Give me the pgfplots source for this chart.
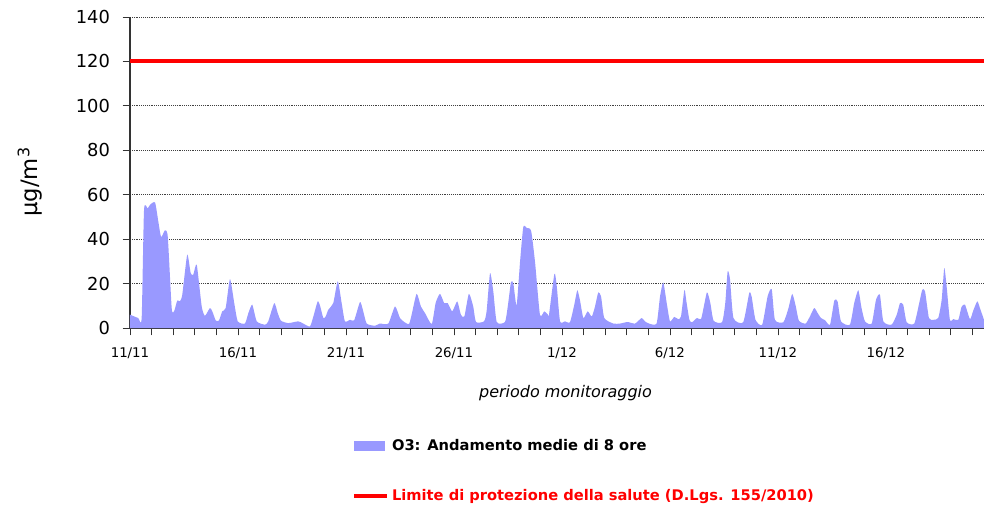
\documentclass[border=0pt]{standalone}
\usepackage{pgfplots}
\pgfplotsset{compat=1.18}
\usepackage{fontspec}
\setmainfont{DejaVu Sans}
\definecolor{ozone}{RGB}{153,153,255}
\begin{document}
\begin{tikzpicture}
\begin{axis}[
  at={(0,0)}, anchor=south west,
  scale only axis, width=640.5pt, height=233.25pt,
  xmin=0, xmax=39.54, ymin=0, ymax=140,
  axis x line*=bottom, axis y line*=left,
  axis line style={black!80, line width=0.8pt},
  tick align=outside,
  major tick length=5.5pt, minor tick length=5.5pt,
  tick style={black!80, line width=0.6pt},
  xtick={0,5,...,35},
  xticklabels={11/11,16/11,21/11,26/11,1/12,6/12,11/12,16/12},
  minor xtick={1,...,39},
  ytick={0,20,...,140},
  ymajorgrids=true,
  major grid style={densely dotted, black!75, line width=0.6pt},
  /pgf/number format/assume math mode=true,
  yticklabel style={font=\fontsize{13.4}{16}\selectfont, xshift=-6pt},
  xticklabel style={font=\fontsize{10}{12}\selectfont, yshift=-5.5pt},
  xlabel={periodo monitoraggio},
  xlabel style={at={(axis description cs:0.51,-0.209)}, anchor=center, font=\fontsize{12}{14}\selectfont\itshape},
  ylabel={µg/m\textsuperscript{3}},
  ylabel style={at={(axis description cs:-0.117,0.47)}, anchor=center, font=\fontsize{17}{19}\selectfont},
  legend style={draw=none, fill=none, at={(axis description cs:0.255,-0.34)}, anchor=north west,
    row sep=24pt, font=\fontsize{11}{13}\selectfont\bfseries},
  legend cell align=left,
]
\addplot[fill=ozone, draw=none, smooth, tension=0.35,
  legend image code/.code={\fill[ozone] (0pt,-3.75pt) rectangle (23pt,3.75pt);}]
coordinates {
(0.00,6.0) (0.38,4.5) (0.54,4.5) (0.65,53.2) (0.82,53.8) (0.93,55.5) (1.16,56.5)
(1.31,48) (1.44,41) (1.62,44) (1.75,41) (1.93,9) (2.04,7.5) (2.19,12.4) (2.31,12)
(2.42,15) (2.65,33) (2.81,24.7) (2.93,24) (3.09,28.5) (3.32,9.7) (3.47,5.5) (3.70,9)
(3.81,7.5) (3.97,3.4) (4.12,3.4) (4.27,7.5) (4.43,9) (4.63,22) (4.83,11) (4.99,3)
(5.32,2) (5.48,6.7) (5.66,10.5) (5.87,3) (6.25,1.5) (6.40,3) (6.68,11.2) (6.84,6.7)
(6.99,3.3) (7.33,2.2) (7.79,3) (8.02,2) (8.33,0.7) (8.49,5.2) (8.69,12) (8.80,10)
(8.95,4.5) (9.06,5.2) (9.18,8.2) (9.41,11.2) (9.62,21) (9.80,11.2) (9.95,3) (10.19,3.7)
(10.38,3.5) (10.65,11.7) (10.80,7.5) (10.96,2) (11.34,1) (11.57,2) (11.96,2) (12.27,9.7)
(12.50,4.5) (12.73,2.5) (12.92,1.8) (13.04,6) (13.27,15.4) (13.47,9.7) (13.66,6.7)
(13.97,1.8) (14.15,11.2) (14.35,15.4) (14.55,11.2) (14.71,11.2) (14.92,7.5) (15.15,12)
(15.32,6) (15.48,5.2) (15.69,15.4) (15.89,9.7) (16.02,2.7) (16.39,3) (16.51,7.5)
(16.67,24.7) (16.82,16.5) (16.98,2.7) (17.36,2.7) (17.49,9.7) (17.64,20.7) (17.75,20)
(17.90,10.2) (18.06,30) (18.21,45.5) (18.37,45) (18.57,43.8) (18.75,30) (18.98,6)
(19.18,7.5) (19.34,6.2) (19.40,6) (19.65,24.4) (19.76,18.7) (19.91,3) (20.14,3)
(20.37,2.6) (20.57,10.5) (20.71,17) (20.83,12.7) (20.99,4.5) (21.19,7.5) (21.38,5.2)
(21.53,9.7) (21.68,16) (21.81,14.2) (21.96,4.5) (22.38,2) (22.69,2) (23.04,2.7)
(23.38,2) (23.69,4.5) (23.84,3) (24.03,2) (24.38,2) (24.54,14.2) (24.69,20.5)
(24.85,11.2) (25.00,3) (25.20,5) (25.38,4) (25.51,5.2) (25.67,17.2) (25.76,12)
(25.90,3.7) (26.02,2.6) (26.25,4.5) (26.45,4.4) (26.71,16) (26.87,11.2) (27.02,3.3)
(27.41,2.6) (27.56,11.2) (27.67,25.5) (27.78,22) (27.94,4.5) (28.39,2.6) (28.67,15.7)
(28.78,14.2) (28.96,3.7) (29.27,1.5) (29.52,14.2) (29.71,17.5) (29.86,3.7) (30.25,2.6)
(30.48,8.7) (30.66,15.4) (30.82,10) (30.97,3.3) (31.28,2) (31.48,5.2) (31.68,9)
(31.84,6.7) (31.99,4.5) (32.18,3.5) (32.41,1.5) (32.61,12.4) (32.76,12) (32.92,3)
(33.33,1.5) (33.53,11.2) (33.72,17) (33.87,9) (34.03,3) (34.34,2) (34.54,12.7)
(34.72,15) (34.88,3) (35.26,1.5) (35.50,6) (35.65,11.2) (35.80,10.5) (35.96,2.6)
(36.31,2) (36.54,11.2) (36.68,17.2) (36.81,16.5) (36.99,4.5) (37.19,3.7) (37.42,4.5)
(37.58,12.7) (37.70,27) (37.81,18.7) (37.96,3.7) (38.12,4) (38.35,3.7) (38.50,9.5)
(38.66,10.5) (38.89,4) (39.04,7.8) (39.23,12) (39.35,9) (39.54,3.7)
} \closedcycle;
\addlegendentry{O3: Andamento medie di 8 ore}
\addplot[red, line width=3pt,
  legend image code/.code={\draw[red, line width=3pt] (0pt,0pt) -- (25pt,0pt);}]
coordinates {(0,120) (39.54,120)};
\addlegendentry{\textcolor{red}{Limite di protezione della salute (D.Lgs. 155/2010)}}
\end{axis}
\pgfresetboundingbox
\path[use as bounding box] (-97.5pt,-136.5pt) rectangle (640.5pt,246pt);
\end{tikzpicture}
\end{document}
